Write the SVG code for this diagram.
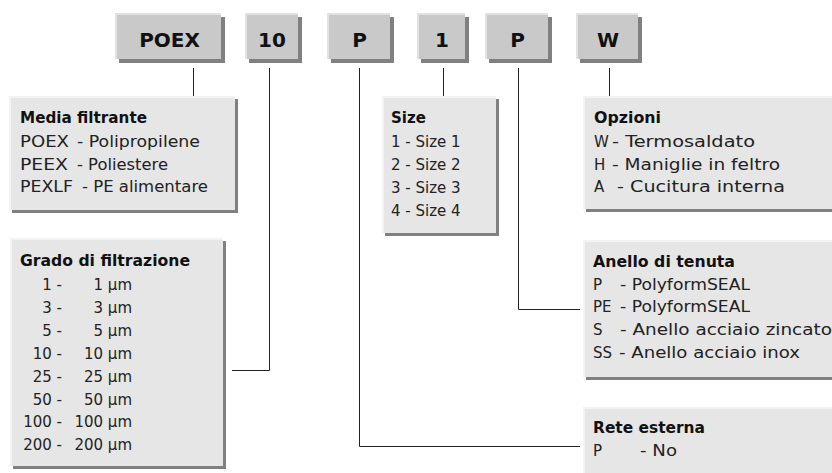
<svg xmlns="http://www.w3.org/2000/svg" width="832" height="473" viewBox="0 0 832 473">
<defs>
<style>
.code{fill:#c9c9c9}
.info{fill:#e6e6e6}
.sh{fill:#808080}
.hl{fill:none;stroke:#e2e2e2;stroke-width:2}
.hli{fill:none;stroke:#f3f3f3;stroke-width:2}
.ct{font-family:"DejaVu Sans",sans-serif;font-weight:bold;font-size:20px;fill:#111;text-anchor:middle}
.tt{font-family:"DejaVu Sans",sans-serif;font-weight:bold;font-size:15px;fill:#111}
.t{font-family:"DejaVu Sans",sans-serif;font-size:15px;fill:#222}
.e{text-anchor:end}
.conn{fill:none;stroke:#222;stroke-width:1}
</style>
</defs>
<rect width="832" height="473" fill="#fff"/>

<g id="connectors">
<path class="conn" d="M193.5,68 V96"/>
<path class="conn" d="M269.5,68 V370.5 H232"/>
<path class="conn" d="M359.5,68 V446.5 H580"/>
<path class="conn" d="M443.5,68 V96"/>
<path class="conn" d="M518.5,68 V309.5 H580"/>
<path class="conn" d="M609.5,68 V96"/>
</g>

<g id="code-poex">
<rect class="sh" x="119" y="17" width="106" height="46"/>
<rect class="code" x="115" y="13" width="106" height="46"/>
<path class="hl" d="M116,59 V14 H221"/>
<text class="ct" x="169.5" y="47">POEX</text>
</g>
<g id="code-10">
<rect class="sh" x="249" y="17" width="53" height="46"/>
<rect class="code" x="245" y="13" width="53" height="46"/>
<path class="hl" d="M246,59 V14 H298"/>
<text class="ct" x="272" y="47">10</text>
</g>
<g id="code-p1">
<rect class="sh" x="331" y="17" width="63" height="46"/>
<rect class="code" x="327" y="13" width="63" height="46"/>
<path class="hl" d="M328,59 V14 H390"/>
<text class="ct" x="359.5" y="47">P</text>
</g>
<g id="code-1">
<rect class="sh" x="421" y="17" width="48" height="46"/>
<rect class="code" x="417" y="13" width="48" height="46"/>
<path class="hl" d="M418,59 V14 H465"/>
<text class="ct" x="442" y="47">1</text>
</g>
<g id="code-p2">
<rect class="sh" x="489" y="17" width="63" height="46"/>
<rect class="code" x="485" y="13" width="63" height="46"/>
<path class="hl" d="M486,59 V14 H548"/>
<text class="ct" x="517.5" y="47">P</text>
</g>
<g id="code-w">
<rect class="sh" x="580" y="17" width="62" height="46"/>
<rect class="code" x="576" y="13" width="62" height="46"/>
<path class="hl" d="M577,59 V14 H638"/>
<text class="ct" x="608" y="47">W</text>
</g>

<g id="media-filtrante">
<rect class="sh" x="12" y="99" width="226" height="114"/>
<rect class="info" x="9" y="96" width="226" height="114"/>
<path class="hli" d="M10,210 V97 H235"/>
<text class="tt" x="20" y="123" textLength="127" lengthAdjust="spacingAndGlyphs">Media filtrante</text>
<text class="t" x="20" y="147" textLength="49" lengthAdjust="spacingAndGlyphs">POEX</text>
<text class="t" x="77" y="147" textLength="123" lengthAdjust="spacingAndGlyphs">- Polipropilene</text>
<text class="t" x="20" y="170" textLength="48" lengthAdjust="spacingAndGlyphs">PEEX</text>
<text class="t" x="77" y="170" textLength="91" lengthAdjust="spacingAndGlyphs">- Poliestere</text>
<text class="t" x="20" y="192" textLength="53" lengthAdjust="spacingAndGlyphs">PEXLF</text>
<text class="t" x="82" y="192" textLength="126" lengthAdjust="spacingAndGlyphs">- PE alimentare</text>
</g>

<g id="size">
<rect class="sh" x="385" y="99" width="114" height="137"/>
<rect class="info" x="382" y="96" width="114" height="137"/>
<path class="hli" d="M383,233 V97 H496"/>
<text class="tt" x="391" y="123">Size</text>
<text class="t" x="391" y="147">1 - Size 1</text>
<text class="t" x="391" y="170">2 - Size 2</text>
<text class="t" x="391" y="193">3 - Size 3</text>
<text class="t" x="391" y="216">4 - Size 4</text>
</g>

<g id="opzioni">
<rect class="sh" x="586" y="99" width="260" height="113"/>
<rect class="info" x="583" y="96" width="260" height="113"/>
<path class="hli" d="M584,209 V97 H843"/>
<text class="tt" x="594" y="123" textLength="67" lengthAdjust="spacingAndGlyphs">Opzioni</text>
<text class="t" x="594" y="147">W</text>
<text class="t" x="612" y="147" textLength="143" lengthAdjust="spacingAndGlyphs">- Termosaldato</text>
<text class="t" x="594" y="170">H</text>
<text class="t" x="612" y="170" textLength="168" lengthAdjust="spacingAndGlyphs">- Maniglie in feltro</text>
<text class="t" x="594" y="192">A</text>
<text class="t" x="617" y="192" textLength="168" lengthAdjust="spacingAndGlyphs">- Cucitura interna</text>
</g>

<g id="grado-filtrazione">
<rect class="sh" x="13" y="241" width="213" height="228"/>
<rect class="info" x="10" y="238" width="213" height="228"/>
<path class="hli" d="M11,466 V239 H223"/>
<text class="tt" x="20" y="266" textLength="170" lengthAdjust="spacingAndGlyphs">Grado di filtrazione</text>
<text class="t e" x="62" y="290">1 -</text><text class="t e" x="132" y="290">1 µm</text>
<text class="t e" x="62" y="313">3 -</text><text class="t e" x="132" y="313">3 µm</text>
<text class="t e" x="62" y="336">5 -</text><text class="t e" x="132" y="336">5 µm</text>
<text class="t e" x="62" y="359">10 -</text><text class="t e" x="132" y="359">10 µm</text>
<text class="t e" x="62" y="382">25 -</text><text class="t e" x="132" y="382">25 µm</text>
<text class="t e" x="62" y="405">50 -</text><text class="t e" x="132" y="405">50 µm</text>
<text class="t e" x="62" y="427">100 -</text><text class="t e" x="132" y="427">100 µm</text>
<text class="t e" x="62" y="450">200 -</text><text class="t e" x="132" y="450">200 µm</text>
</g>

<g id="anello-tenuta">
<rect class="sh" x="586" y="243" width="260" height="137"/>
<rect class="info" x="583" y="240" width="260" height="137"/>
<path class="hli" d="M584,377 V241 H843"/>
<text class="tt" x="593" y="267" textLength="142" lengthAdjust="spacingAndGlyphs">Anello di tenuta</text>
<text class="t" x="593" y="290">P</text>
<text class="t" x="620" y="290" textLength="130" lengthAdjust="spacingAndGlyphs">- PolyformSEAL</text>
<text class="t" x="593" y="312">PE</text>
<text class="t" x="620" y="312" textLength="130" lengthAdjust="spacingAndGlyphs">- PolyformSEAL</text>
<text class="t" x="593" y="335">S</text>
<text class="t" x="620" y="335" textLength="212" lengthAdjust="spacingAndGlyphs">- Anello acciaio zincato</text>
<text class="t" x="593" y="358">SS</text>
<text class="t" x="619" y="358" textLength="181" lengthAdjust="spacingAndGlyphs">- Anello acciaio inox</text>
</g>

<g id="rete-esterna">
<rect class="sh" x="586" y="410" width="260" height="80"/>
<rect class="info" x="583" y="407" width="260" height="80"/>
<path class="hli" d="M584,487 V408 H843"/>
<text class="tt" x="593" y="433" textLength="112" lengthAdjust="spacingAndGlyphs">Rete esterna</text>
<text class="t" x="593" y="456">P</text>
<text class="t" x="640" y="456" textLength="37" lengthAdjust="spacingAndGlyphs">- No</text>
</g>
</svg>
